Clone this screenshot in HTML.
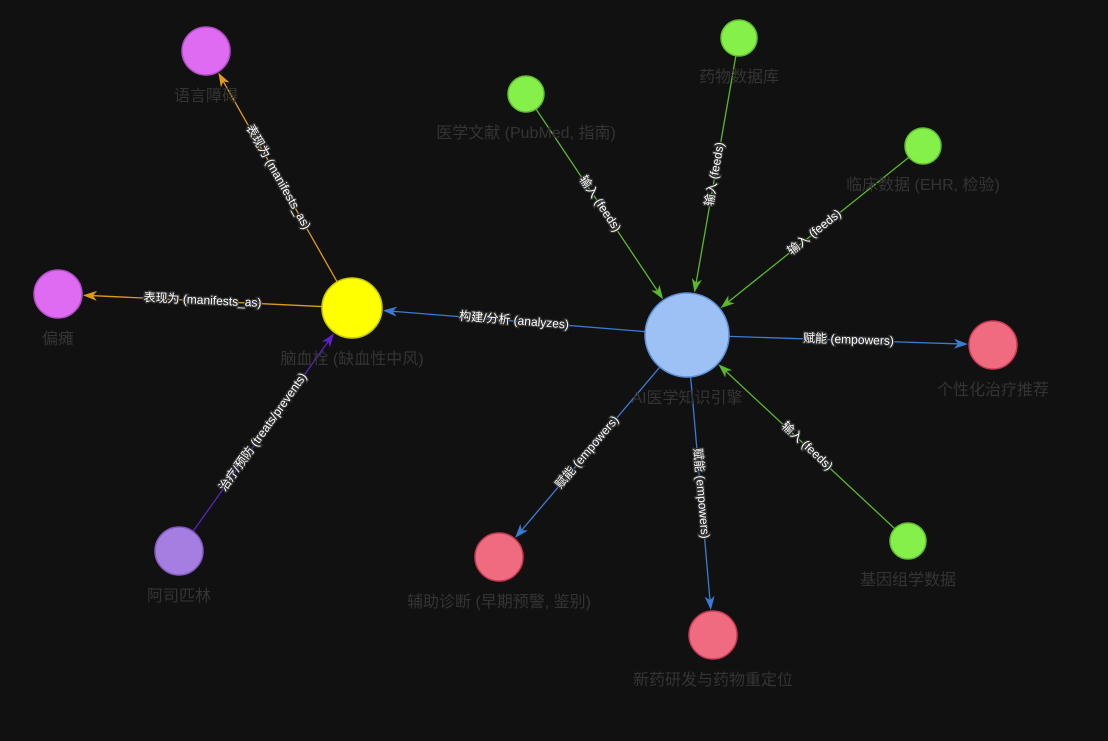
<!DOCTYPE html>
<html><head><meta charset="utf-8"><style>
html,body{margin:0;padding:0;background:#111111;}
svg{display:block;}
.nl{font-family:"Liberation Sans","Noto Sans CJK SC",sans-serif;font-size:16px;fill:#343434;text-anchor:middle;}
.el{font-family:"Liberation Sans","Noto Sans CJK SC",sans-serif;font-size:12px;fill:#ffffff;stroke:#333;stroke-width:2.5px;paint-order:stroke;text-anchor:middle;dominant-baseline:middle;}
</style></head><body>
<svg id="g" width="1108" height="741" viewBox="0 0 1108 741" xmlns="http://www.w3.org/2000/svg">
<rect width="1108" height="741" fill="#111111"/>
<g id="edges"></g><g id="nodes"></g>
</svg>
<script>
const nodeIds=["ai","stroke","aphasia","hemi","aspirin","lit","drugdb","clin","genome","person","diag","drug"];
const nodeLabels=["AI医学知识引擎","脑血栓 (缺血性中风)","语言障碍","偏瘫","阿司匹林","医学文献 (PubMed, 指南)","药物数据库","临床数据 (EHR, 检验)","基因组学数据","个性化治疗推荐","辅助诊断 (早期预警, 鉴别)","新药研发与药物重定位"];
const nodeX=[687,352,206,58,179,526,739,923,908,993,499,713];
const nodeY=[335,308,51,294,551,94,38,146,541,345,557,635];
const nodeR=[42,30,24,24,24,18,18,18,18,24,24,24];
const nodeFill=["#9dc1f5","#ffff00","#df6bf2","#df6bf2","#a67de0","#85f04a","#85f04a","#85f04a","#85f04a","#f06b80","#f06b80","#f06b80"];
const nodeStroke=["#5d8fd6","#c8c800","#b04cc4","#b04cc4","#8058c0","#62c030","#62c030","#62c030","#62c030","#c83a52","#c83a52","#c83a52"];
const edgeSrc=["lit","drugdb","clin","genome","ai","ai","ai","ai","stroke","stroke","aspirin"];
const edgeTgt=["ai","ai","ai","ai","stroke","person","diag","drug","aphasia","hemi","stroke"];
const edgeLabels=["输入 (feeds)","输入 (feeds)","输入 (feeds)","输入 (feeds)","构建/分析 (analyzes)","赋能 (empowers)","赋能 (empowers)","赋能 (empowers)","表现为 (manifests_as)","表现为 (manifests_as)","治疗/预防 (treats/prevents)"];
const edgeColors=["#5cb82a","#5cb82a","#5cb82a","#5cb82a","#3a7bd5","#3a7bd5","#3a7bd5","#3a7bd5","#e09a1c","#e09a1c","#5a22c8"];
const NS="http://www.w3.org/2000/svg";
const E=document.getElementById('edges'),N=document.getElementById('nodes');
const idx=id=>nodeIds.indexOf(id);
edgeSrc.forEach((s,i)=>{
  const a=idx(s),b=idx(edgeTgt[i]);
  const x1=nodeX[a],y1=nodeY[a],x2=nodeX[b],y2=nodeY[b];
  const dx=x2-x1,dy=y2-y1,L=Math.hypot(dx,dy),ux=dx/L,uy=dy/L;
  const sx=x1+ux*nodeR[a],sy=y1+uy*nodeR[a];
  const tx=x2-ux*(nodeR[b]+1),ty=y2-uy*(nodeR[b]+1);
  const ln=document.createElementNS(NS,'line');
  
  
  ln.setAttribute('x1',sx);ln.setAttribute('y1',sy);ln.setAttribute('x2',tx-ux*8);ln.setAttribute('y2',ty-uy*8);
  ln.setAttribute('stroke',edgeColors[i]);ln.setAttribute('stroke-width','1.3');
  E.appendChild(ln);
  const px=-uy,py=ux;
  const ar=document.createElementNS(NS,'polygon');
  
  
  const bx=tx-ux*14,by=ty-uy*14;
  ar.setAttribute('points',`${tx},${ty} ${bx+px*5},${by+py*5} ${bx+ux*4},${by+uy*4} ${bx-px*5},${by-py*5}`);
  ar.setAttribute('fill',edgeColors[i]);
  E.appendChild(ar);
  const mx=(sx+tx)/2,my=(sy+ty)/2;
  let ang=Math.atan2(dy,dx)*180/Math.PI;
  if(ang>90)ang-=180;if(ang<-90)ang+=180;
  const t=document.createElementNS(NS,'text');
  
  
  t.setAttribute('class','el');
  t.setAttribute('x',mx);t.setAttribute('y',my);
  t.setAttribute('transform',`rotate(${ang} ${mx} ${my})`);
  t.textContent=edgeLabels[i];
  E.appendChild(t);
});
nodeIds.forEach((id,i)=>{
  const c=document.createElementNS(NS,'circle');
  
  
  c.setAttribute('cx',nodeX[i]);c.setAttribute('cy',nodeY[i]);c.setAttribute('r',nodeR[i]);
  c.setAttribute('fill',nodeFill[i]);c.setAttribute('stroke',nodeStroke[i]);c.setAttribute('stroke-width','1.5');
  N.appendChild(c);
  const t=document.createElementNS(NS,'text');
  
  
  t.setAttribute('class','nl');
  t.setAttribute('x',nodeX[i]);t.setAttribute('y',nodeY[i]+nodeR[i]+26);
  t.textContent=nodeLabels[i];
  N.appendChild(t);
});
</script>
</body></html>
